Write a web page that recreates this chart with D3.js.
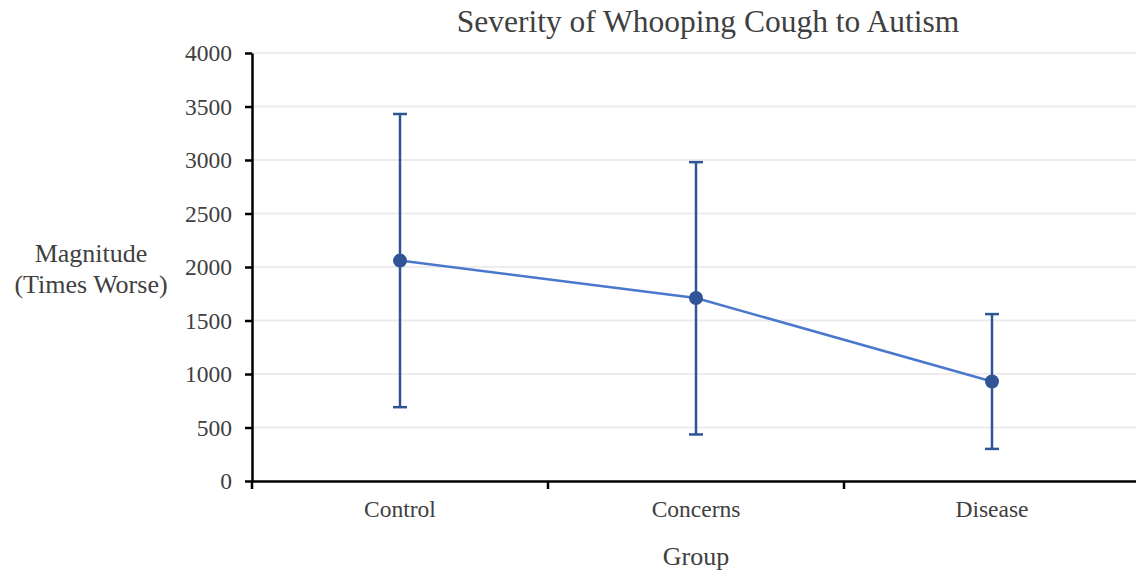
<!DOCTYPE html>
<html lang="en">
<head>
<meta charset="UTF-8">
<title>Severity of Whooping Cough to Autism</title>
<script src="https://d3js.org/d3.v7.min.js"></script>
<style>
    body { margin: 0; padding: 0; background: #fff; }
    svg, svg text { font-family: "Liberation Serif", "Times New Roman", serif; }
</style>
</head>
<body>
<div id="chart"></div>
<script>
    var groups = ["Control", "Concerns", "Disease"];
    var means = [2060, 1710, 930];
    var upper = [3430, 2980, 1560];
    var lower = [690, 435, 300];
    var yTicks = [0, 500, 1000, 1500, 2000, 2500, 3000, 3500, 4000];

    var width = 1136, height = 573;
    var margin = { top: 53, right: -4, bottom: 92, left: 252 };

    var svg = d3.select("#chart").append("svg")
        .attr("width", width)
        .attr("height", height);

    var x = d3.scaleBand()
        .domain(groups)
        .range([margin.left, width - margin.right]);

    var y = d3.scaleLinear()
        .domain([0, 4000])
        .range([height - margin.bottom, margin.top]);

    var textColor = "#404040";
    var serif = "'Liberation Serif', 'Times New Roman', serif";

    // gridlines
    svg.append("g")
        .selectAll("line")
        .data(yTicks.slice(1))
        .enter().append("line")
        .attr("x1", margin.left)
        .attr("x2", width)
        .attr("y1", function (d) { return y(d); })
        .attr("y2", function (d) { return y(d); })
        .attr("stroke", "#ececec")
        .attr("stroke-width", 2);

    // y axis
    var yAxis = svg.append("g")
        .attr("transform", "translate(" + margin.left + ",0)")
        .call(d3.axisLeft(y).tickValues(yTicks).tickFormat(d3.format("d"))
            .tickSize(7).tickSizeOuter(0).tickPadding(13));
    yAxis.attr("font-family", serif);
    yAxis.select(".domain").attr("stroke", "#000").attr("stroke-width", 2.5);
    yAxis.selectAll(".tick line").attr("stroke", "#000").attr("stroke-width", 2.5);
    yAxis.selectAll(".tick text")
        .attr("fill", textColor)
        .style("font-size", "23.5px");

    // x axis
    var xAxis = svg.append("g")
        .attr("transform", "translate(0," + y(0) + ")")
        .call(d3.axisBottom(x).tickSize(0).tickPadding(19));
    xAxis.attr("font-family", serif);
    xAxis.select(".domain").attr("stroke", "#000").attr("stroke-width", 2.5);
    xAxis.selectAll(".tick text")
        .attr("fill", textColor)
        .style("font-size", "23.5px");

    // category boundary ticks
    svg.append("g")
        .selectAll("line")
        .data(groups)
        .enter().append("line")
        .attr("x1", function (d) { return x(d); })
        .attr("x2", function (d) { return x(d); })
        .attr("y1", y(0))
        .attr("y2", y(0) + 8)
        .attr("stroke", "#000")
        .attr("stroke-width", 2.5);

    var cx = function (i) { return x(groups[i]) + x.bandwidth() / 2; };

    // mean line
    svg.append("path")
        .datum(means)
        .attr("fill", "none")
        .attr("stroke", "#4a78cc")
        .attr("stroke-width", 2.5)
        .attr("d", d3.line()
            .x(function (d, i) { return cx(i); })
            .y(function (d) { return y(d); }));

    // error bars
    var bars = svg.append("g")
        .selectAll("g")
        .data(means)
        .enter().append("g");

    bars.append("line")
        .attr("x1", function (d, i) { return cx(i); })
        .attr("x2", function (d, i) { return cx(i); })
        .attr("y1", function (d, i) { return y(upper[i]); })
        .attr("y2", function (d, i) { return y(lower[i]); })
        .attr("stroke", "#2f5597")
        .attr("stroke-width", 2.5);

    [upper, lower].forEach(function (arr) {
        bars.append("line")
            .attr("x1", function (d, i) { return cx(i) - 7; })
            .attr("x2", function (d, i) { return cx(i) + 7; })
            .attr("y1", function (d, i) { return y(arr[i]); })
            .attr("y2", function (d, i) { return y(arr[i]); })
            .attr("stroke", "#2f5597")
            .attr("stroke-width", 2.5);
    });

    bars.append("circle")
        .attr("cx", function (d, i) { return cx(i); })
        .attr("cy", function (d) { return y(d); })
        .attr("r", 7)
        .attr("fill", "#2f5597");

    // title
    svg.append("text")
        .attr("x", 708)
        .attr("y", 32)
        .attr("text-anchor", "middle")
        .attr("fill", textColor)
        .style("font-size", "31.5px")
        .text("Severity of Whooping Cough to Autism");

    // y axis title
    var yt = svg.append("text")
        .attr("text-anchor", "middle")
        .attr("fill", textColor)
        .style("font-size", "26px");
    yt.append("tspan").attr("x", 91).attr("y", 262).text("Magnitude");
    yt.append("tspan").attr("x", 91).attr("y", 293).text("(Times Worse)");

    // x axis title
    svg.append("text")
        .attr("x", 696)
        .attr("y", 565)
        .attr("text-anchor", "middle")
        .attr("fill", textColor)
        .style("font-size", "26px")
        .text("Group");
</script>
</body>
</html>
